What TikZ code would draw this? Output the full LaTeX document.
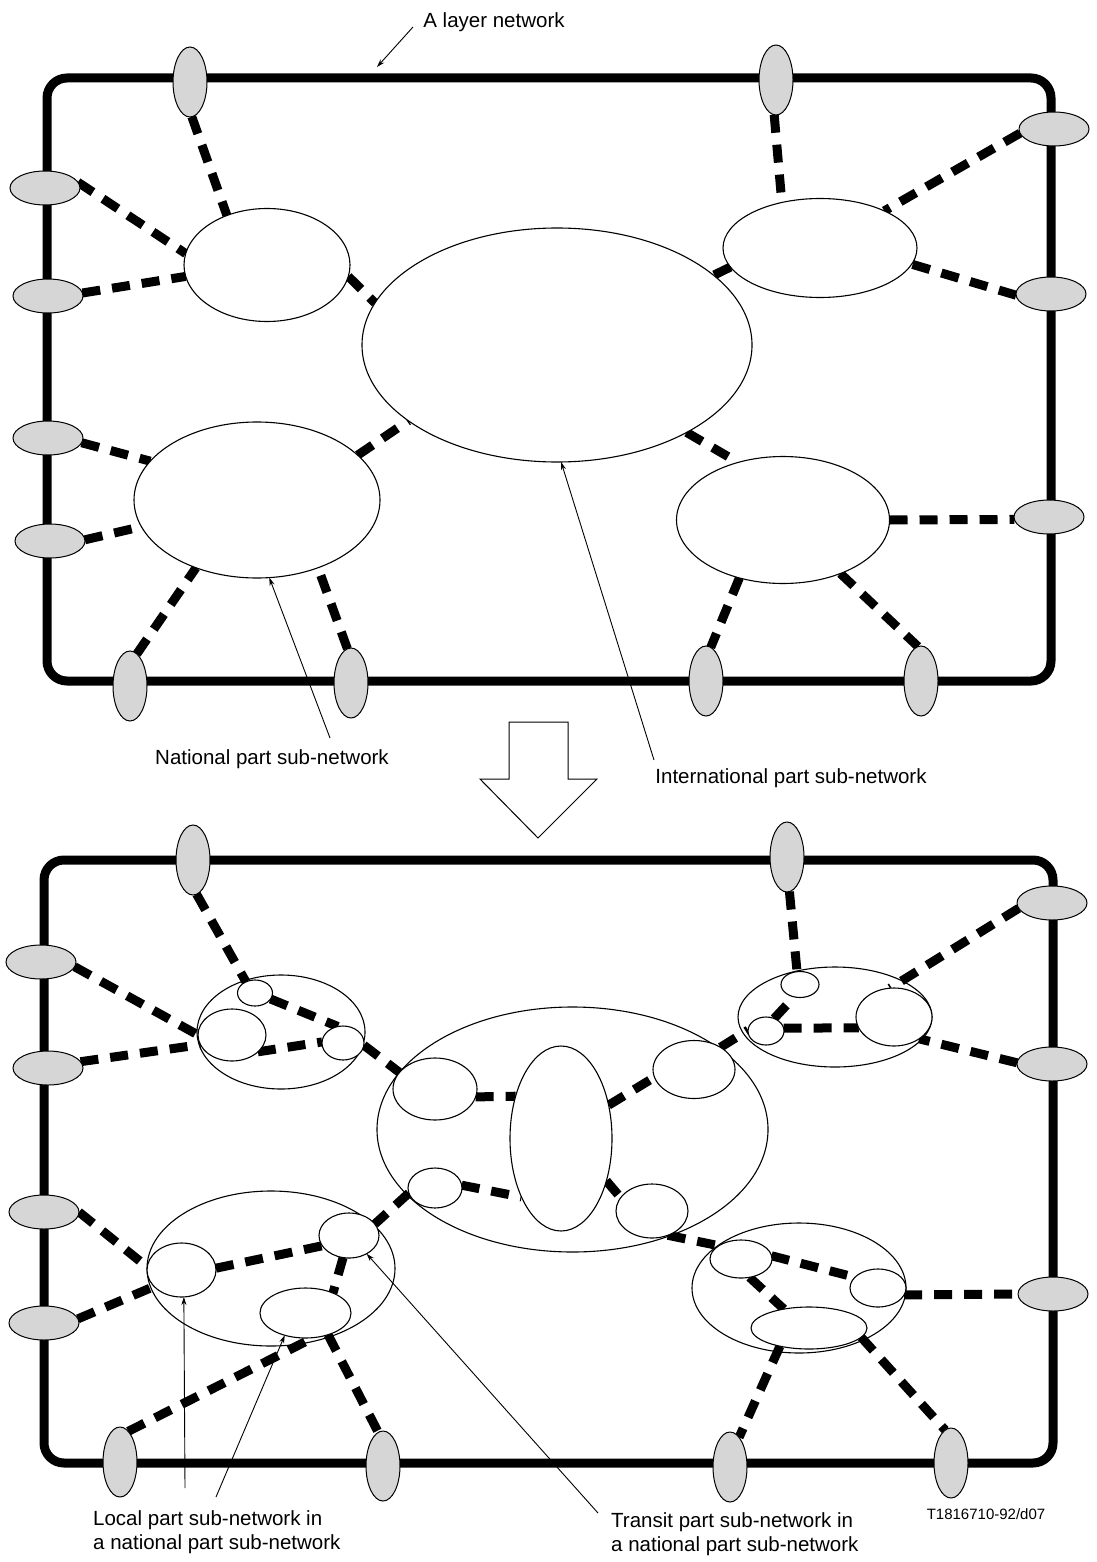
\documentclass[tikz,border=0pt]{standalone}
\usepackage{fontspec}
\setmainfont{Liberation Sans}
\usetikzlibrary{shapes.geometric,arrows.meta}
\pgfdeclarelayer{back}
\pgfdeclarelayer{edges}
\pgfsetlayers{back,edges,main}
\begin{document}
\begin{tikzpicture}[x=1pt,y=-1pt,
  port/.style={ellipse, draw, fill=black!16, line width=1pt, inner sep=0pt, outer sep=0pt},
  vport/.style={port, minimum width=34pt, minimum height=70pt},
  hport/.style={port, minimum width=70pt, minimum height=34pt},
  subnet/.style={ellipse, draw, fill=white, line width=1.1pt, inner sep=0pt, outer sep=0pt},
  cluster/.style={ellipse, draw, line width=1.1pt, inner sep=0pt, outer sep=0pt},
  link/.style={line width=9pt, dash pattern=on 18pt off 12pt},
  frame/.style={line width=9pt, rounded corners=20pt},
  leader/.style={line width=0.9pt, -{Stealth[length=8pt,width=5pt]}},
  lbl/.style={font=\fontsize{20.5}{24.5}\selectfont, inner sep=0pt}]
\useasboundingbox (0,0) rectangle (1096,1562);

% ---------- layer network boundaries and outer sub-network clusters ----------
\begin{pgfonlayer}{back}
  \draw[frame] (47,78) rectangle (1051,681);
  \draw[frame] (44,860) rectangle (1053,1463);
  \node[cluster, minimum width=168pt, minimum height=114pt] (NWo) at (281,1032) {};
  \node[cluster, minimum width=391pt, minimum height=245pt] (ICo) at (572.5,1129.5) {};
  \node[cluster, minimum width=194pt, minimum height=100pt] (NEo) at (835,1017) {};
  \node[cluster, minimum width=248pt, minimum height=155pt] (SWo) at (271,1268.5) {};
  \node[cluster, minimum width=214pt, minimum height=130pt] (SEo) at (799,1288) {};
\end{pgfonlayer}

% ---------- upper panel: ports ----------
\node[vport] (tp1) at (190,82) {};
\node[vport] (tp2) at (776,80) {};
\node[hport] (lp1) at (45,188) {};
\node[hport] (lp2) at (48,296) {};
\node[hport] (lp3) at (48,438) {};
\node[hport] (lp4) at (50,541) {};
\node[vport] (bp1) at (130,686) {};
\node[vport] (bp2) at (351,683) {};
\node[vport] (bp3) at (706,681) {};
\node[vport] (bp4) at (921,681) {};
\node[hport] (rp1) at (1054,129) {};
\node[hport] (rp2) at (1051,294) {};
\node[hport] (rp3) at (1049,517) {};

% ---------- upper panel: sub-networks ----------
\node[subnet, minimum width=166pt, minimum height=113pt] (nw) at (267,265) {};
\node[subnet, minimum width=194pt, minimum height=99pt] (ne) at (820,248) {};
\node[subnet, minimum width=390pt, minimum height=234pt] (ic) at (557,345) {};
\node[subnet, minimum width=246pt, minimum height=156pt] (sw) at (257,500) {};
\node[subnet, minimum width=213pt, minimum height=127pt] (se) at (783,520) {};

% ---------- lower panel: ports ----------
\node[vport] (qt1) at (193,860) {};
\node[vport] (qt2) at (787,857) {};
\node[hport] (ql1) at (41,962) {};
\node[hport] (ql2) at (48,1068) {};
\node[hport] (ql3) at (44,1212) {};
\node[hport] (ql4) at (44,1323) {};
\node[vport] (qb1) at (120,1462) {};
\node[vport] (qb2) at (383,1466) {};
\node[vport] (qb3) at (730,1467) {};
\node[vport] (qb4) at (951,1463) {};
\node[hport] (qr1) at (1052,903) {};
\node[hport] (qr2) at (1052,1064) {};
\node[hport] (qr3) at (1053,1294) {};

% ---------- lower panel: inner sub-networks ----------
\node[subnet, minimum width=35pt, minimum height=26pt] (NWa) at (255,993) {};
\node[subnet, minimum width=68pt, minimum height=52pt] (NWb) at (232,1035) {};
\node[subnet, minimum width=42pt, minimum height=34pt] (NWc) at (343,1043) {};

\node[subnet, minimum width=84pt, minimum height=62pt] (ICa) at (435,1089) {};
\node[subnet, minimum width=102pt, minimum height=185pt] (ICv) at (561,1138.5) {};
\node[subnet, minimum width=82pt, minimum height=58pt] (ICb) at (694,1069.5) {};
\node[subnet, minimum width=54pt, minimum height=40pt] (ICc) at (435,1188) {};
\node[subnet, minimum width=72pt, minimum height=54pt] (ICd) at (652,1211) {};

\node[subnet, minimum width=38pt, minimum height=26pt] (NEa) at (800,984.5) {};
\node[subnet, minimum width=36pt, minimum height=28pt] (NEb) at (766,1031) {};
\node[subnet, minimum width=76pt, minimum height=58pt] (NEc) at (894,1017) {};

\node[subnet, minimum width=69pt, minimum height=54pt] (SWa) at (181.5,1270) {};
\node[subnet, minimum width=60pt, minimum height=45pt] (SWb) at (349,1235.5) {};
\node[subnet, minimum width=91pt, minimum height=50pt] (SWc) at (305.5,1313) {};

\node[subnet, minimum width=62pt, minimum height=38pt] (SEa) at (741,1259) {};
\node[subnet, minimum width=56pt, minimum height=38pt] (SEb) at (878,1288) {};
\node[subnet, minimum width=116pt, minimum height=42pt] (SEc) at (809,1328) {};

% ---------- links ----------
\begin{pgfonlayer}{edges}
  % upper panel
  \draw[link] (tp1.-87) -- (nw.129);
  \draw[link] (lp1.10) -- (nw.172);
  \draw[link] (lp2.5) -- (nw.188);
  \draw[link] (nw.-8) -- (ic.167);
  \draw[link] (tp2.-93) -- (ne.130);
  \draw[link] (rp1.187) -- (ne.30);
  \draw[link] (rp2.182) -- (ne.-10);
  \draw[link] (ne.192) -- (ic.24);
  \draw[link] (sw.24) -- (ic.207);
  \draw[link] (lp3.-8) -- (sw.160);
  \draw[link] (lp4.2) -- (sw.193);
  \draw[link] (bp1.78) -- (sw.228);
  \draw[link] (bp2.96) -- (sw.-48);
  \draw[link] (ic.-34) -- (se.128);
  \draw[link] (se.0) -- (rp3.184);
  \draw[link] (se.233) -- (bp3.82);
  \draw[link] (se.-43) -- (bp4.95);
  % lower panel
  \draw[link] (qt1.-84) -- (NWa.129);
  \draw[link] (ql1.-8) -- (NWb.180);
  \draw[link] (ql2.11) -- (NWb.197);
  \draw[link] (NWa.-21) -- (NWc.107);
  \draw[link] (NWb.-33) -- (NWc.177);
  \draw[link] (NWc.-6) -- (ICa.155);
  \draw[link] (ICa.-11) -- (ICv.137);
  \draw[link] (ICv.35) -- (ICb.191);
  \draw[link] (ICb.40) -- (NEb.177);
  \draw[link] (NEb.57) -- (NEa.-115);
  \draw[link] (qt2.-86) -- (NEa.103);
  \draw[link] (NEb.9) -- (NEc.197);
  \draw[link] (qr1.189) -- (NEc.98);
  \draw[link] (qr2.178) -- (NEc.-41);
  \draw[link] (ICc.6) -- (ICv.236);
  \draw[link] (ICv.-43) -- (ICd.157);
  \draw[link] (ICc.191) -- (SWb.24);
  \draw[link] (ql3.0) -- (SWa.175);
  \draw[link] (ql4.7) -- (SWa.211);
  \draw[link] (SWa.3) -- (SWb.201);
  \draw[link] (SWb.255) -- (SWc.36);
  \draw[link] (SWc.-44) -- (qb2.98);
  \draw[link] (qb1.75) -- (SWc.-72);
  \draw[link] (ICd.-57) -- (SEa.149);
  \draw[link] (SEa.6) -- (SEb.155);
  \draw[link] (SEb.-15) -- (qr3.180);
  \draw[link] (SEa.-65) -- (SEc.143);
  \draw[link] (SEc.212) -- (qb3.73);
  \draw[link] (SEc.-10) -- (qb4.100);
\end{pgfonlayer}

% ---------- labels and leaders ----------
\node[lbl] (layer) at (494,22) {A layer network};
\coordinate (layerfoot) at (413,27);
\coordinate (layertip) at (377,67);
\draw[leader] (layerfoot) -- (layertip);

\node[lbl] (natl) at (272,759) {National part sub-network};
\coordinate (natfoot) at (330,738);
\draw[leader] (natfoot) -- (sw.-81);

\node[lbl] (intl) at (791,778) {International part sub-network};
\coordinate (intfoot) at (654,760);
\draw[leader] (intfoot) -- (ic.-88);

\node[lbl, align=left, anchor=west] (local) at (93,1532) {Local part sub-network in\\a national part sub-network};
\coordinate (localfootA) at (185,1488);
\coordinate (localfootB) at (216,1497);
\draw[leader] (localfootA) -- (SWa.-85);
\draw[leader] (localfootB) -- (SWc.227);

\node[lbl, align=left, anchor=west] (transit) at (611,1534) {Transit part sub-network in\\a national part sub-network};
\coordinate (transitfoot) at (598,1513);
\draw[leader] (transitfoot) -- (SWb.-46);

\node[font=\fontsize{15}{18}\selectfont, inner sep=0pt] (code) at (986,1514) {T1816710-92/d07};

% ---------- refinement arrow between the panels ----------
\draw[line width=1pt, fill=white] (509,722) -- (568,722) -- (568,779) -- (597,779)
  -- (538,838) -- (480,779) -- (509,779) -- cycle;
\end{tikzpicture}
\end{document}
